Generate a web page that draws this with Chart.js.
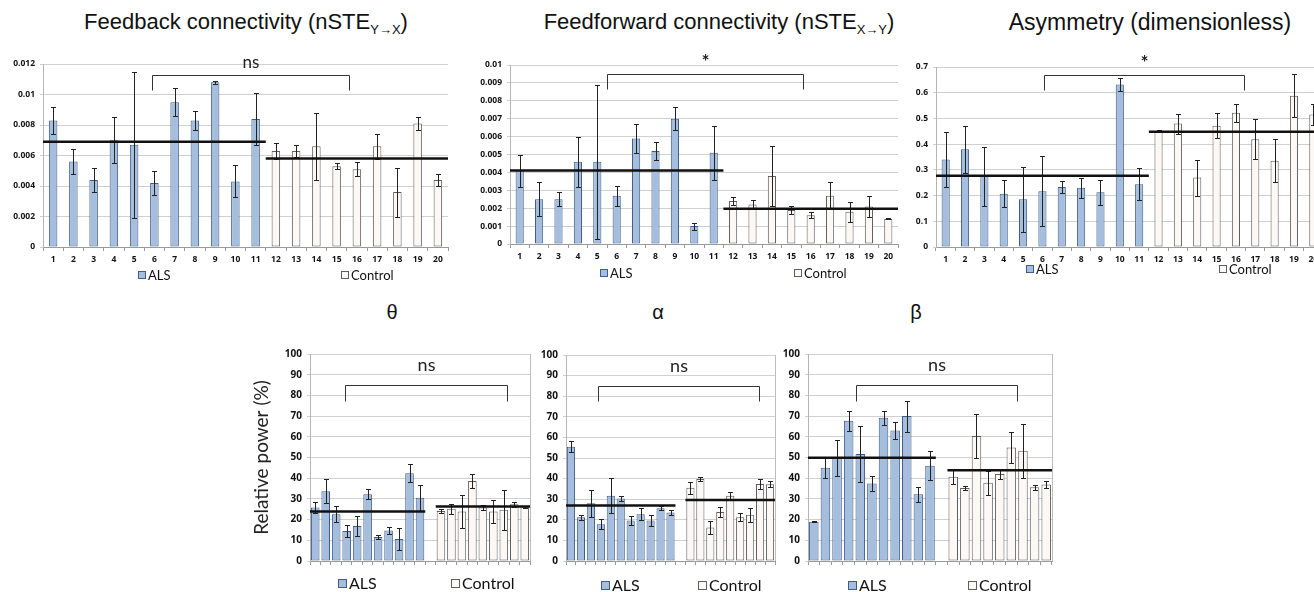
<!DOCTYPE html>
<html>
<head>
<meta charset="utf-8">
<script src="https://cdn.jsdelivr.net/npm/chart.js@4.4.1/dist/chart.umd.min.js"></script>
<style>
    html, body { margin: 0; padding: 0; width: 1314px; height: 592px; overflow: hidden; background: #fff; }
    canvas { position: absolute; }
    .titolo { position: absolute; font-family: "Liberation Sans", Arial, sans-serif; color: #111; white-space: nowrap; transform: translateX(-50%); }
    .titolo sub { font-size: 13px; vertical-align: -5px; line-height: 0; }
</style>
</head>
<body>
<div class="titolo" style="left:246px; top:9px; font-size:22px">Feedback connectivity (nSTE<sub>Y→X</sub>)</div>
<div class="titolo" style="left:719px; top:9px; font-size:22px">Feedforward connectivity (nSTE<sub>X→Y</sub>)</div>
<div class="titolo" style="left:1150px; top:9px; font-size:23px">Asymmetry (dimensionless)</div>
<div class="titolo" style="left:392px; top:301px; font-size:20px">θ</div>
<div class="titolo" style="left:658px; top:301px; font-size:20px">α</div>
<div class="titolo" style="left:916px; top:301px; font-size:20px">β</div>

<canvas id="graficoFB"></canvas>
<canvas id="graficoFF"></canvas>
<canvas id="graficoAS"></canvas>
<canvas id="graficoTheta"></canvas>
<canvas id="graficoAlpha"></canvas>
<canvas id="graficoBeta"></canvas>

<script>
// --- dati pannelli superiori (soggetti 1-11 ALS, 12-20 controlli) ---
const soggetti = ['1', '2', '3', '4', '5', '6', '7', '8', '9', '10', '11', '12', '13', '14', '15', '16', '17', '18', '19', '20'];

const fbALS = [0.0083, 0.0056, 0.0044, 0.0070, 0.0067, 0.0042, 0.0095, 0.0083, 0.0108, 0.0043, 0.0084];
const fbALSerr = [0.0009, 0.0008, 0.0008, 0.0015, 0.0048, 0.0008, 0.0009, 0.0006, 0.0001, 0.00105, 0.0017];
const fbCtrl = [0.0063, 0.0063, 0.0066, 0.0053, 0.0051, 0.0066, 0.0036, 0.0081, 0.0044];
const fbCtrlErr = [0.00055, 0.0004, 0.0022, 0.0002, 0.00045, 0.0008, 0.0016, 0.0004, 0.0004];
const fbMedie = [0.0069, 0.0058];
const fbTicks = [0, 0.002, 0.004, 0.006, 0.008, 0.01, 0.012];

const ffALS = [0.0041, 0.0025, 0.0025, 0.0046, 0.0046, 0.0027, 0.0059, 0.0052, 0.0070, 0.0010, 0.0051];
const ffALSerr = [0.0009, 0.00095, 0.0004, 0.0014, 0.0043, 0.00055, 0.0008, 0.0005, 0.00065, 0.0002, 0.0015];
const ffCtrl = [0.0024, 0.0022, 0.0038, 0.0019, 0.0016, 0.0027, 0.0018, 0.0021, 0.0014];
const ffCtrlErr = [0.00022, 0.00024, 0.0017, 0.0002, 0.00016, 0.00075, 0.00055, 0.00058, 0.00003];
const ffMedie = [0.0041, 0.00197];
const ffTicks = [0, 0.001, 0.002, 0.003, 0.004, 0.005, 0.006, 0.007, 0.008, 0.009, 0.01];

const asALS = [0.34, 0.38, 0.275, 0.207, 0.186, 0.217, 0.233, 0.23, 0.213, 0.632, 0.244];
const asALSerr = [0.107, 0.092, 0.115, 0.053, 0.126, 0.135, 0.022, 0.038, 0.048, 0.027, 0.062];
const asCtrl = [0.451, 0.48, 0.27, 0.472, 0.522, 0.419, 0.335, 0.588, 0.515];
const asCtrlErr = [0.003, 0.039, 0.07, 0.05, 0.036, 0.078, 0.084, 0.084, 0.04];
const asMedie = [0.277, 0.448];
const asTicks = [0, 0.1, 0.2, 0.3, 0.4, 0.5, 0.6, 0.7];

// --- dati pannelli inferiori (potenza relativa %, 11 ALS + vuoto + 9 controlli) ---
const bande = ['', '', '', '', '', '', '', '', '', '', '', '', '', '', '', '', '', '', '', '', ''];

const thALS = [25.8, 33.7, 22.6, 14.5, 16.9, 32.3, 11.6, 14.7, 10.6, 42.4, 30.6];
const thALSerr = [2.7, 5.8, 4, 2.8, 4.8, 2.4, 0.8, 1.8, 5.2, 4.4, 6.3];
const thCtrl = [24.2, 25.2, 23.9, 38.7, 25.8, 23.9, 24.7, 27.4, 26.0];
const thCtrlErr = [1, 2.5, 7.8, 3.4, 1.4, 5.6, 9.6, 1.2, 0.5];
const thMedie = [23.9, 26.3];

const alALS = [55.5, 21.2, 28, 17.8, 31.7, 30.3, 19.6, 22.7, 19.6, 25.6, 23.6];
const alALSerr = [2.8, 1.2, 6.6, 2.4, 8.5, 1.1, 2.3, 3, 2.5, 0.9, 1.2];
const alCtrl = [35.6, 39.8, 16.3, 23.8, 31.7, 21.2, 22.5, 37.4, 37.2];
const alCtrlErr = [2.9, 1.1, 3.3, 2.3, 1.8, 1.9, 3.4, 2.3, 1.4];
const alMedie = [26.9, 29.6];

const beALS = [19, 45.1, 49.6, 67.8, 51.7, 37.5, 69.2, 63, 70, 32.2, 46];
const beALSerr = [0.3, 5, 8.7, 4.8, 13.3, 3.5, 3.5, 4, 7.5, 3.6, 7];
const beCtrl = [40.7, 35.3, 60.4, 37.8, 42, 54.8, 53.3, 35.6, 37];
const beCtrlErr = [3.4, 1, 10.5, 5.8, 2.6, 7.3, 13.1, 1.2, 1.6];
const beMedie = [49.9, 43.8];

const potTicks = [0, 10, 20, 30, 40, 50, 60, 70, 80, 90, 100];

const BLU = '#a5bedd';
const BLU_BORDO = '#3f5d88';
const BIANCO = '#fbf8f6';
const GRIGIO_BORDO = '#5e5e5e';
const GRIGLIA = '#d0d0d0';

function vuoti(n) {
    return Array(n).fill(null);
}

// disegna barre di errore, medie di gruppo, parentesi di significatività e legenda
function decorazioni(spec) {
    return {
        id: 'decor',
        afterDatasetsDraw(chart) {
            const ctx = chart.ctx;
            const x = chart.scales.x;
            const y = chart.scales.y;
            const area = chart.chartArea;
            ctx.save();

            if (spec.bordoDestro) {
                ctx.strokeStyle = '#bdbdbd';
                ctx.lineWidth = 1;
                ctx.beginPath();
                ctx.moveTo(Math.round(area.right) + 0.5, area.top);
                ctx.lineTo(Math.round(area.right) + 0.5, area.bottom);
                ctx.stroke();
            }

            // barre di errore
            ctx.strokeStyle = '#222';
            ctx.lineWidth = 1;
            chart.data.datasets.forEach((ds, d) => {
                const meta = chart.getDatasetMeta(d);
                meta.data.forEach((bar, i) => {
                    const v = ds.data[i];
                    if (v == null) return;
                    const e = ds.errori[i];
                    const yA = Math.round(y.getPixelForValue(v + e)) + 0.5;
                    const yB = Math.round(y.getPixelForValue(v - e)) + 0.5;
                    const xc = Math.round(bar.x) + 0.5;
                    ctx.beginPath();
                    ctx.moveTo(xc, yA); ctx.lineTo(xc, yB);
                    ctx.moveTo(xc - spec.cap, yA); ctx.lineTo(xc + spec.cap, yA);
                    ctx.moveTo(xc - spec.cap, yB); ctx.lineTo(xc + spec.cap, yB);
                    ctx.stroke();
                });
            });

            // linee delle medie
            ctx.strokeStyle = '#111';
            ctx.lineWidth = 2.5;
            const yM1 = y.getPixelForValue(spec.medie[0]);
            const yM2 = y.getPixelForValue(spec.medie[1]);
            ctx.beginPath();
            ctx.moveTo(area.left, yM1);
            ctx.lineTo(x.getPixelForValue(spec.fineALS), yM1);
            ctx.moveTo(x.getPixelForValue(spec.inizioCtrl), yM2);
            ctx.lineTo(area.right, yM2);
            ctx.stroke();

            // parentesi
            const p = spec.parentesi;
            const xa = Math.round(x.getPixelForValue(p.da)) + 0.5;
            const xb = Math.round(x.getPixelForValue(p.a)) + 0.5;
            const ya = Math.round(y.getPixelForValue(p.alto)) + 0.5;
            const yb = Math.round(y.getPixelForValue(p.basso)) + 0.5;
            ctx.strokeStyle = '#333';
            ctx.lineWidth = 1;
            ctx.beginPath();
            ctx.moveTo(xa, yb); ctx.lineTo(xa, ya); ctx.lineTo(xb, ya); ctx.lineTo(xb, yb);
            ctx.stroke();
            ctx.fillStyle = '#222';
            ctx.font = p.font;
            ctx.textAlign = 'center';
            ctx.textBaseline = 'middle';
            ctx.fillText(p.testo, (xa + xb) / 2, ya + p.dy);

            // legenda sotto i due gruppi
            ctx.font = spec.legFont;
            ctx.textBaseline = 'middle';
            ctx.textAlign = 'left';
            const yL = area.bottom + spec.legDy;
            const voci = [
                { testo: 'ALS', centro: spec.centroALS, fill: BLU, bordo: BLU_BORDO },
                { testo: 'Control', centro: spec.centroCtrl, fill: BIANCO, bordo: GRIGIO_BORDO }
            ];
            voci.forEach(v => {
                const w = spec.box + 2 + ctx.measureText(v.testo).width;
                const x0 = Math.round(x.getPixelForValue(v.centro) - w / 2);
                const yb0 = Math.round(yL - spec.box / 2);
                ctx.fillStyle = v.fill;
                ctx.fillRect(x0, yb0, spec.box, spec.box);
                ctx.strokeStyle = v.bordo;
                ctx.strokeRect(x0 + 0.5, yb0 + 0.5, spec.box - 1, spec.box - 1);
                ctx.fillStyle = '#111';
                ctx.fillText(v.testo, x0 + spec.box + 2, yL + 1);
            });
            ctx.restore();
        }
    };
}

function creaPannello(id, etichette, serieALS, serieCtrl, tickY, area, tela, spec, titoloY) {
    const canvas = document.getElementById(id);
    canvas.width = tela.r - tela.l;
    canvas.height = tela.b - tela.t;
    canvas.style.left = tela.l + 'px';
    canvas.style.top = tela.t + 'px';
    canvas.style.width = (tela.r - tela.l) + 'px';
    canvas.style.height = (tela.b - tela.t) + 'px';

    return new Chart(canvas.getContext('2d'), {
        type: 'bar',
        data: {
            labels: etichette,
            datasets: [
                {
                    label: 'ALS',
                    data: serieALS.dati,
                    errori: serieALS.errori,
                    backgroundColor: BLU,
                    borderColor: BLU_BORDO,
                    borderWidth: 1,
                    borderSkipped: false
                },
                {
                    label: 'Control',
                    data: serieCtrl.dati,
                    errori: serieCtrl.errori,
                    backgroundColor: BIANCO,
                    borderColor: GRIGIO_BORDO,
                    borderWidth: 1,
                    borderSkipped: false
                }
            ]
        },
        options: {
            responsive: false,
            animation: false,
            devicePixelRatio: 1,
            layout: {
                padding: { top: area.t - tela.t, right: tela.r - area.r, left: 0, bottom: 0 }
            },
            datasets: {
                bar: { grouped: false, barPercentage: spec.larghezza, categoryPercentage: 1 }
            },
            scales: {
                x: {
                    grid: { display: true, drawOnChartArea: false, tickLength: 4, color: '#9a9a9a', offset: true },
                    border: { color: '#9a9a9a' },
                    ticks: {
                        autoSkip: false,
                        maxRotation: 0,
                        padding: 3,
                        color: '#111',
                        font: { family: 'Open Sans', weight: 'bold', size: spec.fontX }
                    },
                    afterFit: s => { s.height = tela.b - area.b; }
                },
                y: {
                    min: tickY[0],
                    max: tickY[tickY.length - 1],
                    afterBuildTicks: s => { s.ticks = tickY.map(v => ({ value: v })); },
                    grid: { color: GRIGLIA, tickLength: 3 },
                    border: { color: '#b5b5b5' },
                    ticks: {
                        padding: 5,
                        color: '#111',
                        font: { family: 'Open Sans', weight: 'bold', size: spec.fontY },
                        callback: v => String(v)
                    },
                    title: titoloY ? {
                        display: true,
                        text: titoloY,
                        color: '#222',
                        padding: { top: 2, bottom: 0 },
                        font: { family: 'Lato', size: 19 }
                    } : { display: false },
                    afterFit: s => { s.width = area.l - tela.l; }
                }
            },
            plugins: {
                legend: { display: false },
                tooltip: { enabled: false }
            }
        },
        plugins: [decorazioni(spec)]
    });
}

function serieSopra(valori, errori, inizio) {
    return {
        dati: vuoti(inizio).concat(valori).concat(vuoti(20 - inizio - valori.length)),
        errori: vuoti(inizio).concat(errori).concat(vuoti(20 - inizio - errori.length))
    };
}

function serieSotto(valori, errori, inizio) {
    return {
        dati: vuoti(inizio).concat(valori).concat(vuoti(21 - inizio - valori.length)),
        errori: vuoti(inizio).concat(errori).concat(vuoti(21 - inizio - errori.length))
    };
}

const specSopra = {
    larghezza: 0.42, cap: 2.5, fontX: 8.5, fontY: 8.5,
    fineALS: 10.5, inizioCtrl: 10.5, centroALS: 5, centroCtrl: 15.5,
    legFont: '13px Lato', box: 8
};
const specSotto = {
    larghezza: 0.82, cap: 2.5, fontX: 9, fontY: 10, bordoDestro: true,
    fineALS: 10.5, inizioCtrl: 11.5, centroALS: 5, centroCtrl: 16,
    legFont: '16px Lato', box: 9
};

creaPannello('graficoFB', soggetti, serieSopra(fbALS, fbALSerr, 0), serieSopra(fbCtrl, fbCtrlErr, 11), fbTicks,
    { l: 43, t: 64, r: 448, b: 247 }, { l: 0, t: 45, r: 470, b: 292 },
    Object.assign({}, specSopra, { medie: fbMedie, legDy: 28,
        parentesi: { da: 4.9, a: 14.6, alto: 0.0113, basso: 0.0103, testo: 'ns', dy: -13, font: '17px Lato' } }));

creaPannello('graficoFF', soggetti, serieSopra(ffALS, ffALSerr, 0), serieSopra(ffCtrl, ffCtrlErr, 11), ffTicks,
    { l: 510, t: 65, r: 898, b: 244 }, { l: 450, t: 45, r: 910, b: 292 },
    Object.assign({}, specSopra, { medie: ffMedie, legDy: 29,
        parentesi: { da: 4.5, a: 14.6, alto: 0.0095, basso: 0.00865, testo: '*', dy: -13, font: 'bold 19px Lato' } }));

creaPannello('graficoAS', soggetti, serieSopra(asALS, asALSerr, 0), serieSopra(asCtrl, asCtrlErr, 11), asTicks,
    { l: 936, t: 67, r: 1323, b: 247 }, { l: 880, t: 45, r: 1330, b: 292 },
    Object.assign({}, specSopra, { medie: asMedie, legDy: 22,
        parentesi: { da: 5.1, a: 15.4, alto: 0.668, basso: 0.61, testo: '*', dy: -13, font: 'bold 19px Lato' } }));

creaPannello('graficoTheta', bande, serieSotto(thALS, thALSerr, 0), serieSotto(thCtrl, thCtrlErr, 12), potTicks,
    { l: 310, t: 354, r: 530, b: 561 }, { l: 248, t: 338, r: 540, b: 592 },
    Object.assign({}, specSotto, { medie: thMedie, legDy: 22, centroALS: 4,
        parentesi: { da: 2.84, a: 18.3, alto: 85, basso: 77.4, testo: 'ns', dy: -20, font: '18px Lato' } }),
    'Relative power (%)');

creaPannello('graficoAlpha', bande, serieSotto(alALS, alALSerr, 0), serieSotto(alCtrl, alCtrlErr, 12), potTicks,
    { l: 566, t: 355, r: 775, b: 561 }, { l: 530, t: 338, r: 785, b: 592 },
    Object.assign({}, specSotto, { medie: alMedie, legDy: 24,
        parentesi: { da: 2.72, a: 18.9, alto: 85, basso: 77.8, testo: 'ns', dy: -20, font: '18px Lato' } }));

creaPannello('graficoBeta', bande, serieSotto(beALS, beALSerr, 0), serieSotto(beCtrl, beCtrlErr, 12), potTicks,
    { l: 808, t: 354, r: 1052, b: 561 }, { l: 770, t: 338, r: 1062, b: 592 },
    Object.assign({}, specSotto, { medie: beMedie, legDy: 24, centroALS: 4.6,
        parentesi: { da: 3.63, a: 17.5, alto: 85, basso: 77.4, testo: 'ns', dy: -20, font: '18px Lato' } }));
</script>
</body>
</html>
